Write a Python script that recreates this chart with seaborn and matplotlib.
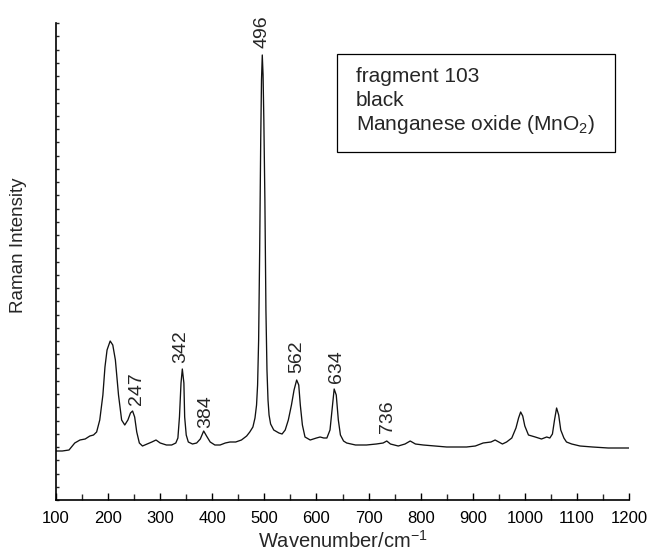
import numpy as np
import pandas as pd
import matplotlib
matplotlib.use("Agg")
import matplotlib.pyplot as plt
import seaborn as sns
from matplotlib.patches import Rectangle
from matplotlib.ticker import MultipleLocator, FixedLocator, NullFormatter

# Raman spectrum (wavenumber, intensity in arbitrary units)
wavenumber = [100, 112, 125, 136, 146, 156, 165, 172, 178, 184, 190, 194, 198, 204,
              209, 214, 220, 226, 232, 238, 243, 247, 251, 255, 260, 266, 275, 284,
              292, 300, 312, 322, 330, 334, 337, 340, 342.5, 345.5, 347, 350, 354,
              362, 370, 377, 383.5, 389, 396, 405, 415, 425, 434, 445, 456, 466,
              472, 478, 482, 485, 487, 489, 491, 493, 494.5, 496, 497.5, 499, 501,
              503, 505, 507, 509, 512, 518, 528, 534, 540, 546, 552, 557, 562, 566,
              569, 573, 578, 588, 600, 607, 614, 620, 626, 630, 634, 638, 642, 646,
              652, 658, 675, 696, 715, 728, 735, 742, 757, 770, 780, 790, 805, 850,
              888, 905, 920, 935, 943, 950, 957, 965, 975, 983, 988, 992, 996, 1000,
              1007, 1020, 1032, 1042, 1048, 1053, 1057, 1061, 1065, 1069, 1075, 1080,
              1090, 1106, 1130, 1160, 1200]
intensity = [49, 49, 50, 57, 60, 61, 64, 65, 68, 80, 105, 133, 150, 159,
             155, 140, 105, 80, 75, 80, 87, 89, 83, 68, 57, 54, 56, 58,
             60, 57, 55, 55, 57, 62, 83, 117, 131, 117, 83, 65, 58,
             56, 57, 61, 69, 64, 58, 55, 55, 57, 58, 58, 60, 64,
             68, 73, 82, 95, 115, 160, 250, 360, 420, 445, 425, 380, 300,
             190, 130, 100, 85, 76, 70, 67, 66, 70, 80, 95, 110, 120, 115,
             95, 75, 63, 60, 62, 63, 62, 62, 70, 90, 111, 105, 80, 65,
             59, 57, 55, 55, 56, 57, 59, 56, 54, 56, 59, 56, 55, 53,
             53, 54, 57, 58, 60, 58, 56, 58, 62, 72, 82, 88, 84, 74,
             65, 63, 61, 63, 62, 66, 80, 92, 85, 70, 62, 58,
             56, 54, 53, 52, 52]

peak_labels = ["247", "342", "384", "496", "562", "634", "736"]
label_x = [255, 339, 388, 496.4, 563, 639, 735.6]
label_y = [95, 137, 72, 452, 127, 117, 67]

info_lines = ["fragment 103", "black", "Manganese oxide (MnO$_2$)"]

x_ticks = [100, 200, 300, 400, 500, 600, 700, 800, 900, 1000, 1100, 1200]

df = pd.DataFrame({"Wavenumber": wavenumber, "Intensity": intensity})

sns.set_style("ticks")
plt.rcParams["font.family"] = ["Liberation Sans", "DejaVu Sans"]
plt.rcParams["mathtext.fontset"] = "custom"
plt.rcParams["mathtext.rm"] = "Liberation Sans"
plt.rcParams["mathtext.it"] = "Liberation Sans"

fig = plt.figure(figsize=(6.61, 5.55), dpi=100)
ax = fig.add_axes([56 / 661, 55 / 555, 573 / 661, 477 / 555])

sns.lineplot(data=df, x="Wavenumber", y="Intensity", ax=ax, color="#111111",
             linewidth=0.95, estimator=None, sort=False)

ax.set_xlim(100, 1200)
ax.set_ylim(0, 477)

for s in ["top", "right"]:
    ax.spines[s].set_visible(False)
for s in ["left", "bottom"]:
    ax.spines[s].set_linewidth(1.2)
    ax.spines[s].set_color("black")

ax.xaxis.set_major_locator(FixedLocator(x_ticks))
ax.xaxis.set_minor_locator(MultipleLocator(50))
ax.set_xticklabels([str(t) for t in x_ticks])
ax.tick_params(axis="x", which="major", direction="in", length=5, width=1,
               labelsize=12, pad=8, colors="black")
ax.tick_params(axis="x", which="minor", direction="in", length=4, width=1)

ax.yaxis.set_major_locator(FixedLocator(list(np.arange(0, 478, 13.25))))
ax.yaxis.set_major_formatter(NullFormatter())
ax.tick_params(axis="y", which="major", direction="in", length=2, width=1)

ax.set_xlabel("Wavenumber/cm$^{-1}$", fontsize=14.5, va="baseline")
ax.set_ylabel("Raman Intensity", fontsize=13.5)
ax.xaxis.set_label_coords(0.5, -0.1)
ax.yaxis.set_label_coords(-0.05, 0.535)

for lab, lx, ly in zip(peak_labels, label_x, label_y):
    ax.text(lx, ly, lab, rotation=90, ha="center", va="bottom", fontsize=14)

ax.add_patch(Rectangle((0.4904, 0.7296), 0.4852, 0.2054, transform=ax.transAxes,
                       fill=False, edgecolor="black", linewidth=0.9, clip_on=False))
line_base = [(500 - 82) / 477, (500 - 106) / 477, (500 - 130) / 477]
for txt, yb in zip(info_lines, line_base):
    ax.text((356 - 56) / 573, yb, txt, transform=ax.transAxes, ha="left",
            va="baseline", fontsize=15)

fig.savefig("out.png", dpi=100)
